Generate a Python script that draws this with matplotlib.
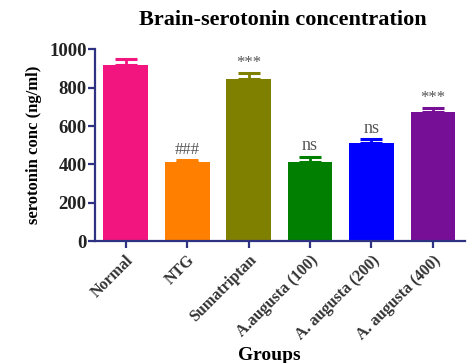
import matplotlib
matplotlib.use("Agg")
import matplotlib.pyplot as plt

groups = ["Normal", "NTG", "Sumatriptan", "A.augusta (100)",
          "A. augusta (200)", "A. augusta (400)"]
means = [918, 410, 845, 413, 510, 673]
sems = [30, 14, 32, 28, 23, 22]
marks = ["", "###", "***", "ns", "ns", "***"]
colors = ["#F2157F", "#FF7F00", "#808000", "#007F00", "#0000FF", "#760E96"]

axis_color = "#2E3280"

plt.rcParams["font.family"] = ["Liberation Serif", "DejaVu Serif"]

fig = plt.figure(figsize=(4.72, 3.63), dpi=100)
ax = fig.add_axes([0.201, 0.336, 0.784, 0.528])

x = range(len(groups))
ax.bar(x, means, width=0.73, color=colors, zorder=2)

for i in x:
    ax.errorbar(i, means[i], yerr=[[0], [sems[i]]], color=colors[i],
                capsize=8, elinewidth=2, capthick=2.2, zorder=1)
    if marks[i]:
        fs = 13 if marks[i] == "ns" else 12
        ax.annotate(marks[i], (i, means[i] + sems[i]), xytext=(0, 1.5),
                    textcoords="offset points", ha="center", va="bottom",
                    fontsize=fs, color="#555555")

ax.set_xlim(-0.5, 5.52)
ax.set_ylim(0, 1000)
ax.set_yticks([0, 200, 400, 600, 800, 1000])

for side in ["top", "right"]:
    ax.spines[side].set_visible(False)
for side in ["left", "bottom"]:
    ax.spines[side].set_color(axis_color)
    ax.spines[side].set_linewidth(1.6)

ax.tick_params(axis="both", colors=axis_color, width=1.6, length=5,
               direction="out")
ax.tick_params(axis="y", labelsize=13.5, labelcolor="#222222", pad=1)
ax.set_yticklabels([0, 200, 400, 600, 800, 1000], fontweight="bold")

ax.set_xticks(list(x))
ax.set_xticklabels(groups, rotation=45, ha="right", rotation_mode="anchor",
                   fontsize=11.5, fontweight="bold", color="#333333")
ax.tick_params(axis="x", pad=3)

ax.set_ylabel("serotonin conc (ng/ml)", fontsize=12, fontweight="bold",
              labelpad=5)
ax.set_xlabel("Groups", fontsize=14, fontweight="bold")
ax.xaxis.set_label_coords(0.472, -0.555)

fig.text(0.6, 0.945, "Brain-serotonin concentration", ha="center",
         va="center", fontsize=16, fontweight="bold")

fig.savefig("out.png", dpi=100)
